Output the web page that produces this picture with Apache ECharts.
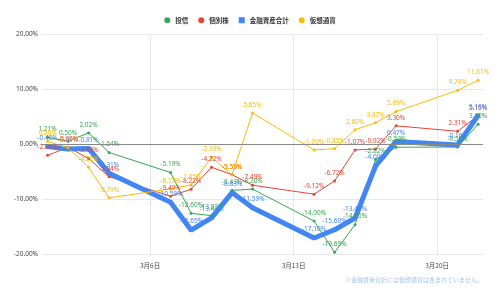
<!DOCTYPE html>
<html><head><meta charset="utf-8">
<script src="https://cdn.jsdelivr.net/npm/echarts@6/dist/echarts.min.js"></script>
<style>html,body{margin:0;padding:0;background:#fff}#c{width:500px;height:296px}</style>
</head><body><div id="c"></div>
<script>
const dates = ['2022-03-01','2022-03-02','2022-03-03','2022-03-04','2022-03-07','2022-03-08','2022-03-09','2022-03-10','2022-03-11','2022-03-14','2022-03-15','2022-03-16','2022-03-17','2022-03-18','2022-03-21','2022-03-22'];
const trust  = [1.21, 0.50, 2.02, -1.54, -5.19, -12.60, -13.02, -8.43, -8.20, -14.00, -19.69, -14.66, -2.82, -0.59, -0.55, 3.60];
const stocks = [-2.06, -0.60, -2.63, -5.94, -9.49, -8.22, -4.22, -5.59, -7.49, -9.12, -6.72, -1.07, -0.92, 3.30, 2.31, 5.15];
const total  = [-0.48, -0.91, -0.81, -5.31, -10.59, -15.65, -13.42, -8.83, -11.59, -17.10, -15.60, -13.45, -4.00, 0.47, -0.16, 5.18];
const crypto = [0.50, -0.70, -4.22, -9.79, -8.17, -7.45, -2.39, -5.59, 5.65, -1.09, -0.85, 2.60, 3.87, 5.89, 9.74, 11.61];
const seriesNames = ['投信','個別株','金融資産合計','仮想通貨'];
const tickDates = ['2022-03-06','2022-03-13','2022-03-20'];
const yTicks = [-20, -10, 0, 10, 20];
const note = '※金融資産合計には仮想通貨は含まれていません。';

const DAY = 86400000;
function ts(s){ const p = s.split('-').map(Number); return Date.UTC(p[0], p[1]-1, p[2]); }
const origin = ts(tickDates[0]);
const dayOf = s => Math.round((ts(s) - origin) / DAY);
const xs = dates.map(dayOf);
const pairs = arr => arr.map((v,i)=>[xs[i], v]);
const colors = ['#34a853','#ea4335','#4285f4','#fbbc04'];
const fmt = v => v.toFixed(2) + '%';
const dayLabel = v => { const d = new Date(origin + v*DAY); return (d.getUTCMonth()+1)+'月'+d.getUTCDate()+'日'; };

function mk(name, arr, color, opts){
  return Object.assign({
    name, type:'line', data: pairs(arr), color,
    symbol:'circle', symbolSize:3,
    lineStyle:{width:1, color},
    itemStyle:{color},
    label:{show:true, position:'top', distance:3, fontSize:6.5, color, fontFamily:'Noto Sans',
      formatter: p => fmt(p.value[1])},
    emphasis:{disabled:true},
    animation:false
  }, opts||{});
}

const chart = echarts.init(document.getElementById('c'), null, {renderer:'canvas'});
chart.setOption({
  animation:false,
  legend:{top:12, left:'center', itemWidth:6, itemHeight:6, itemGap:10,
    textStyle:{fontSize:6.5, fontWeight:'bold', color:'#333', fontFamily:'Noto Sans CJK JP'},
    data:[{name:seriesNames[0],icon:'circle'},{name:seriesNames[1],icon:'circle'},{name:seriesNames[2],icon:'rect'},{name:seriesNames[3],icon:'circle'}]},
  grid:{left:42, right:17, top:34, bottom:42},
  xAxis:{type:'value', min: xs[0] - 0.27, max: xs[xs.length-1] + 0.24,
    axisLine:{show:false}, axisTick:{show:false, customValues: tickDates.map(dayOf)},
    splitLine:{show:true, lineStyle:{color:'#e8e8e8', width:1}},
    axisLabel:{customValues: tickDates.map(dayOf), fontSize:6.5, color:'#444', fontFamily:'Noto Sans CJK JP', margin:8,
      formatter: dayLabel}},
  yAxis:{type:'value', min:yTicks[0], max:yTicks[yTicks.length-1], interval:10,
    axisLine:{show:false}, axisTick:{show:false},
    splitLine:{lineStyle:{color:'#e8e8e8', width:1}},
    axisLabel:{fontSize:6.5, color:'#444', fontFamily:'Noto Sans', margin:4, formatter: v => v.toFixed(2)+'%'}},
  graphic:[{type:'text', right:17, top:277, style:{text:note, fontSize:6, fill:'#9fc3f5', fontFamily:'Noto Sans CJK JP'}}],
  series:[
    mk(seriesNames[0], trust, colors[0], {markLine:{silent:true, symbol:'none', label:{show:false},
      lineStyle:{color:'#888', width:1, type:'solid'}, data:[{yAxis:0}]}}),
    mk(seriesNames[1], stocks, colors[1]),
    mk(seriesNames[2], total, colors[2], {symbol:'rect', symbolSize:4, lineStyle:{width:5, color:colors[2]}}),
    mk(seriesNames[3], crypto, colors[3])
  ]
});
</script></body></html>
